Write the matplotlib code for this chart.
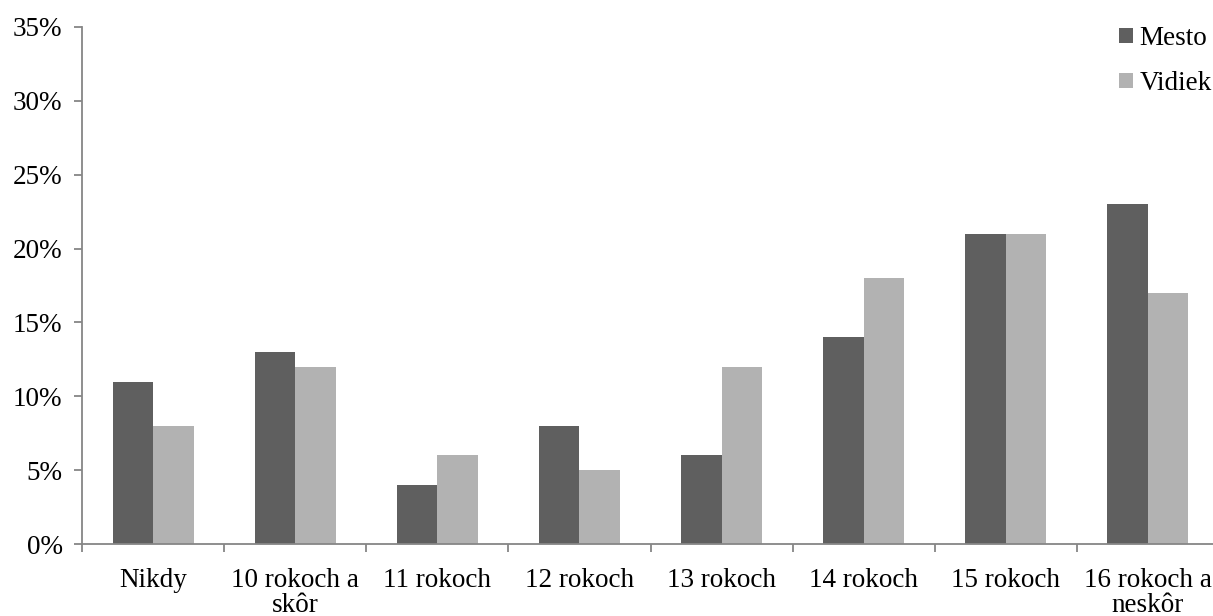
import matplotlib.pyplot as plt
import numpy as np

categories = ["Nikdy", "10 rokoch a\nskôr", "11 rokoch", "12 rokoch",
              "13 rokoch", "14 rokoch", "15 rokoch", "16 rokoch a\nneskôr"]
mesto = [11, 13, 4, 8, 6, 14, 21, 23]
vidiek = [8, 12, 6, 5, 12, 18, 21, 17]
yticks = [0, 5, 10, 15, 20, 25, 30, 35]

plt.rcParams['font.family'] = ['Liberation Serif', 'DejaVu Serif']

fig = plt.figure(figsize=(12.13, 6.16), dpi=100)
ax = fig.add_axes([82 / 1213, 1 - 544 / 616, (1219 - 82) / 1213, (544 - 27) / 616])

x = np.arange(len(categories))
w = 0.285
ax.bar(x - w / 2, mesto, w, color='#5f5f5f', label='Mesto')
ax.bar(x + w / 2, vidiek, w, color='#b2b2b2', label='Vidiek')

ax.set_xlim(-0.5, len(categories) - 0.5)
ax.set_ylim(0, 35)
ax.set_yticks(yticks)
ax.set_yticklabels([f"{v}%" for v in yticks])
ax.set_xticks(x)
ax.set_xticklabels(categories, linespacing=0.98)
ax.set_xticks(np.arange(len(categories) + 1) - 0.5, minor=True)

grey = '#868686'
for s in ['top', 'right']:
    ax.spines[s].set_visible(False)
for s in ['left', 'bottom']:
    ax.spines[s].set_color(grey)
    ax.spines[s].set_linewidth(1.3)

fs = 19.5
ax.tick_params(axis='y', length=6, color=grey, width=1.3, labelsize=fs, pad=8)
ax.tick_params(axis='x', which='major', length=0, labelsize=fs, pad=17.5)
ax.tick_params(axis='x', which='minor', length=6, color=grey, width=1.3)

ax.legend(loc='upper left', bbox_to_anchor=(1119 / 1213, 1 - 26 / 616),
          bbox_transform=fig.transFigure, frameon=False, fontsize=fs,
          handlelength=0.5, handleheight=0.5, handletextpad=0.25,
          labelspacing=0.75, borderaxespad=0, borderpad=0)

fig.savefig('out.png', dpi=100)
